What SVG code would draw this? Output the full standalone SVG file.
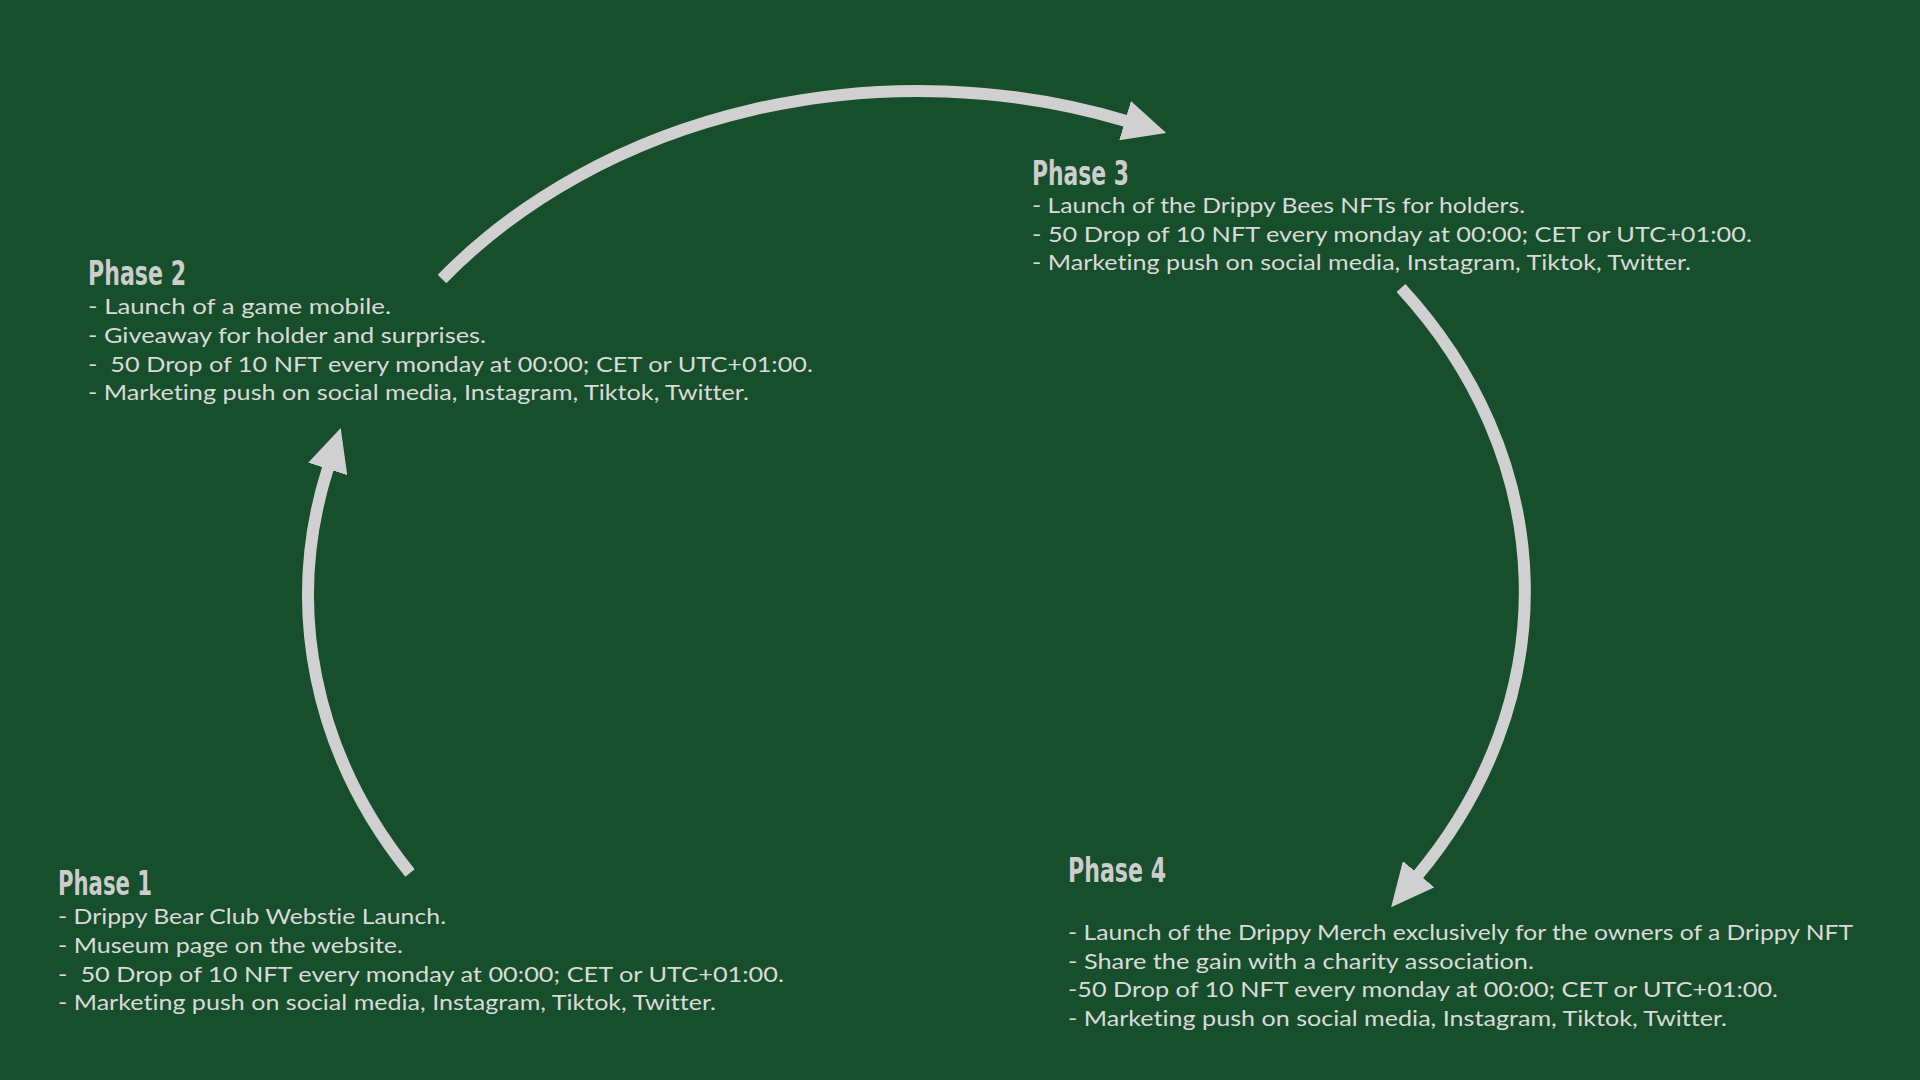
<svg xmlns="http://www.w3.org/2000/svg" width="1920" height="1080" viewBox="0 0 1920 1080">
<defs>
<style>
.title{font-family:"DejaVu Sans Condensed","Liberation Sans Narrow","DejaVu Sans",sans-serif;font-weight:bold;font-size:34px;fill:#cdcdcd;}
.body{font-family:Lato,"Noto Sans","Liberation Sans",sans-serif;font-size:22px;fill:#dadada;white-space:pre;font-variant-ligatures:none;}
.arc{fill:none;stroke:#d0d0d0;stroke-width:12;marker-end:url(#head);}
</style>
<marker id="head" markerUnits="userSpaceOnUse" markerWidth="43" markerHeight="41" viewBox="0 0 43 41" refX="1" refY="20.5" orient="auto">
<path d="M0,0 L43,20.5 L0,41 Z" fill="#d0d0d0"/>
</marker>
</defs>
<rect width="1920" height="1080" fill="#174e2b"/>
<g id="connectors">
<path class="arc" d="M 410 873 A 610 502 0 0 1 328 468"/>
<path class="arc" d="M 442 279 A 610 502 0 0 1 1126 121"/>
<path class="arc" d="M 1401 288 A 610 502 0 0 1 1418 875"/>
</g>
<g id="phase1">
<text class="title" x="58" y="895" textLength="94" lengthAdjust="spacingAndGlyphs">Phase 1</text>
<text class="body" xml:space="preserve" x="58" y="924" textLength="388" lengthAdjust="spacingAndGlyphs">- Drippy Bear Club Webstie Launch.</text>
<text class="body" xml:space="preserve" x="58" y="953" textLength="345" lengthAdjust="spacingAndGlyphs">- Museum page on the website.</text>
<text class="body" xml:space="preserve" x="58" y="982" textLength="726" lengthAdjust="spacingAndGlyphs">-  50 Drop of 10 NFT every monday at 00:00; CET or UTC+01:00.</text>
<text class="body" xml:space="preserve" x="58" y="1010" textLength="658" lengthAdjust="spacingAndGlyphs">- Marketing push on social media, Instagram, Tiktok, Twitter.</text>
</g>
<g id="phase2">
<text class="title" x="88" y="285" textLength="98" lengthAdjust="spacingAndGlyphs">Phase 2</text>
<text class="body" xml:space="preserve" x="88" y="314" textLength="303" lengthAdjust="spacingAndGlyphs">- Launch of a game mobile.</text>
<text class="body" xml:space="preserve" x="88" y="343" textLength="398" lengthAdjust="spacingAndGlyphs">- Giveaway for holder and surprises.</text>
<text class="body" xml:space="preserve" x="88" y="372" textLength="725" lengthAdjust="spacingAndGlyphs">-  50 Drop of 10 NFT every monday at 00:00; CET or UTC+01:00.</text>
<text class="body" xml:space="preserve" x="88" y="400" textLength="661" lengthAdjust="spacingAndGlyphs">- Marketing push on social media, Instagram, Tiktok, Twitter.</text>
</g>
<g id="phase3">
<text class="title" x="1032" y="185" textLength="97" lengthAdjust="spacingAndGlyphs">Phase 3</text>
<text class="body" xml:space="preserve" x="1032" y="213" textLength="493" lengthAdjust="spacingAndGlyphs">- Launch of the Drippy Bees NFTs for holders.</text>
<text class="body" xml:space="preserve" x="1032" y="242" textLength="720" lengthAdjust="spacingAndGlyphs">- 50 Drop of 10 NFT every monday at 00:00; CET or UTC+01:00.</text>
<text class="body" xml:space="preserve" x="1032" y="270" textLength="659" lengthAdjust="spacingAndGlyphs">- Marketing push on social media, Instagram, Tiktok, Twitter.</text>
</g>
<g id="phase4">
<text class="title" x="1068" y="882" textLength="98" lengthAdjust="spacingAndGlyphs">Phase 4</text>
<text class="body" xml:space="preserve" x="1068" y="940" textLength="785" lengthAdjust="spacingAndGlyphs">- Launch of the Drippy Merch exclusively for the owners of a Drippy NFT</text>
<text class="body" xml:space="preserve" x="1068" y="969" textLength="466" lengthAdjust="spacingAndGlyphs">- Share the gain with a charity association.</text>
<text class="body" xml:space="preserve" x="1068" y="997" textLength="710" lengthAdjust="spacingAndGlyphs">-50 Drop of 10 NFT every monday at 00:00; CET or UTC+01:00.</text>
<text class="body" xml:space="preserve" x="1068" y="1026" textLength="659" lengthAdjust="spacingAndGlyphs">- Marketing push on social media, Instagram, Tiktok, Twitter.</text>
</g>
</svg>
